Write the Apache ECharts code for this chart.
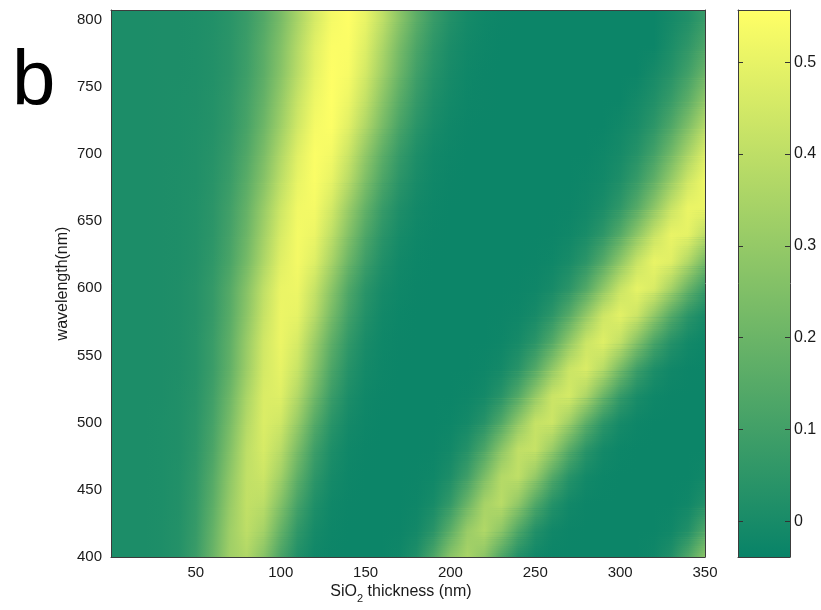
<!DOCTYPE html>
<html><head><meta charset="utf-8">
<script src="https://cdn.jsdelivr.net/npm/echarts@6/dist/echarts.min.js"></script>
<style>html,body{margin:0;padding:0;background:#fff}#chart{width:821px;height:610px}</style>
</head><body><div id="chart"></div>
<script>
// SiO2 thickness (nm) sample positions
const thickness = [0,10,20,30,40,50,60,70,80,90,100,110,120,130,140,150,160,170,180,190,200,210,220,230,240,250,260,270,280,290,300,310,320,330,340,350];
// wavelength (nm) rows
const wavelengths = [400,420,440,460,480,500,520,540,560,580,600,620,640,660,680,700,720,740,760,780,800];
// contrast read along each wavelength row (one value per thickness)
const row400 = [0.010,0.010,0.010,0.013,0.028,0.082,0.194,0.327,0.367,0.266,0.117,0.018,-0.019,-0.028,-0.030,-0.030,-0.029,-0.020,0.019,0.124,0.274,0.350,0.274,0.124,0.019,-0.020,-0.029,-0.030,-0.030,-0.030,-0.030,-0.029,-0.020,0.021,0.130,0.277];
const row420 = [0.010,0.010,0.010,0.013,0.026,0.073,0.180,0.320,0.399,0.339,0.185,0.058,-0.006,-0.025,-0.030,-0.030,-0.030,-0.027,-0.013,0.040,0.161,0.308,0.369,0.282,0.132,0.025,-0.018,-0.028,-0.030,-0.030,-0.030,-0.030,-0.029,-0.020,0.021,0.130];
const row440 = [0.010,0.010,0.010,0.012,0.024,0.065,0.161,0.303,0.409,0.393,0.258,0.110,0.017,-0.019,-0.028,-0.030,-0.030,-0.029,-0.025,-0.002,0.065,0.198,0.342,0.387,0.290,0.137,0.031,-0.015,-0.027,-0.030,-0.030,-0.030,-0.030,-0.029,-0.020,0.021];
const row460 = [0.010,0.010,0.010,0.012,0.022,0.058,0.144,0.281,0.408,0.433,0.329,0.172,0.052,-0.006,-0.025,-0.029,-0.030,-0.030,-0.028,-0.021,0.011,0.093,0.236,0.374,0.403,0.298,0.145,0.036,-0.012,-0.026,-0.030,-0.030,-0.030,-0.030,-0.029,-0.020];
const row480 = [0.010,0.010,0.010,0.012,0.019,0.048,0.122,0.254,0.397,0.460,0.391,0.236,0.092,0.012,-0.020,-0.028,-0.030,-0.030,-0.030,-0.027,-0.014,0.028,0.126,0.275,0.404,0.419,0.306,0.153,0.042,-0.009,-0.026,-0.030,-0.030,-0.030,-0.030,-0.029];
const row500 = [0.010,0.010,0.010,0.012,0.018,0.043,0.108,0.228,0.376,0.469,0.442,0.305,0.148,0.041,-0.008,-0.025,-0.029,-0.030,-0.030,-0.029,-0.026,-0.011,0.035,0.138,0.289,0.418,0.433,0.321,0.166,0.051,-0.006,-0.025,-0.030,-0.030,-0.030,-0.030];
const row520 = [0.010,0.010,0.010,0.011,0.018,0.039,0.096,0.204,0.353,0.467,0.479,0.371,0.214,0.082,0.010,-0.019,-0.028,-0.030,-0.030,-0.030,-0.029,-0.025,-0.009,0.039,0.143,0.295,0.428,0.454,0.356,0.200,0.073,0.005,-0.021,-0.028,-0.030,-0.030];
const row540 = [0.010,0.010,0.010,0.011,0.016,0.033,0.081,0.176,0.319,0.452,0.499,0.425,0.272,0.125,0.033,-0.011,-0.025,-0.029,-0.030,-0.030,-0.030,-0.029,-0.025,-0.009,0.039,0.140,0.290,0.427,0.468,0.382,0.230,0.092,0.014,-0.018,-0.028,-0.030];
const row560 = [0.010,0.010,0.010,0.011,0.016,0.033,0.079,0.169,0.308,0.443,0.510,0.460,0.319,0.169,0.060,0.001,-0.021,-0.028,-0.030,-0.030,-0.030,-0.030,-0.029,-0.024,-0.006,0.044,0.143,0.291,0.430,0.479,0.408,0.261,0.119,0.030,-0.012,-0.026];
const row580 = [0.010,0.010,0.010,0.011,0.016,0.030,0.069,0.152,0.279,0.419,0.511,0.499,0.385,0.228,0.100,0.023,-0.014,-0.026,-0.029,-0.030,-0.030,-0.030,-0.030,-0.028,-0.023,-0.003,0.048,0.150,0.293,0.433,0.490,0.433,0.293,0.150,0.048,-0.003];
const row600 = [0.010,0.010,0.010,0.011,0.016,0.030,0.068,0.144,0.264,0.403,0.506,0.516,0.423,0.277,0.135,0.044,-0.003,-0.022,-0.028,-0.030,-0.030,-0.030,-0.030,-0.030,-0.028,-0.023,-0.004,0.045,0.139,0.281,0.422,0.497,0.463,0.340,0.193,0.076];
const row620 = [0.010,0.010,0.010,0.011,0.014,0.025,0.056,0.119,0.225,0.359,0.482,0.530,0.478,0.346,0.201,0.088,0.019,-0.014,-0.026,-0.030,-0.030,-0.030,-0.030,-0.030,-0.030,-0.028,-0.021,-0.001,0.048,0.146,0.282,0.423,0.505,0.482,0.369,0.223];
const row640 = [0.010,0.010,0.010,0.011,0.014,0.024,0.049,0.107,0.203,0.332,0.461,0.531,0.511,0.401,0.258,0.131,0.045,-0.002,-0.021,-0.028,-0.030,-0.030,-0.030,-0.030,-0.030,-0.030,-0.027,-0.020,0.002,0.052,0.147,0.281,0.419,0.506,0.495,0.395];
const row660 = [0.010,0.010,0.010,0.011,0.013,0.022,0.045,0.096,0.182,0.307,0.435,0.523,0.532,0.452,0.314,0.180,0.078,0.016,-0.013,-0.025,-0.029,-0.030,-0.030,-0.030,-0.030,-0.030,-0.030,-0.027,-0.018,0.004,0.056,0.149,0.279,0.419,0.508,0.508];
const row680 = [0.010,0.010,0.010,0.011,0.013,0.020,0.039,0.080,0.156,0.265,0.396,0.502,0.545,0.498,0.385,0.244,0.126,0.045,0.001,-0.020,-0.027,-0.030,-0.030,-0.030,-0.030,-0.030,-0.030,-0.030,-0.025,-0.014,0.014,0.075,0.174,0.305,0.439,0.517];
const row700 = [0.010,0.010,0.010,0.011,0.012,0.018,0.033,0.069,0.135,0.237,0.364,0.481,0.547,0.527,0.431,0.295,0.167,0.072,0.014,-0.014,-0.025,-0.029,-0.030,-0.030,-0.030,-0.030,-0.030,-0.030,-0.030,-0.022,-0.006,0.031,0.103,0.215,0.346,0.468];
const row720 = [0.010,0.010,0.010,0.011,0.012,0.017,0.028,0.058,0.113,0.205,0.324,0.446,0.533,0.550,0.482,0.362,0.229,0.115,0.041,-0.001,-0.020,-0.027,-0.030,-0.030,-0.030,-0.030,-0.030,-0.030,-0.030,-0.030,-0.017,0.004,0.051,0.134,0.251,0.379];
const row740 = [0.010,0.010,0.010,0.011,0.012,0.016,0.026,0.052,0.103,0.183,0.297,0.421,0.517,0.555,0.514,0.412,0.278,0.156,0.069,0.015,-0.012,-0.024,-0.028,-0.030,-0.030,-0.030,-0.030,-0.030,-0.030,-0.030,-0.030,-0.011,0.018,0.074,0.164,0.284];
const row760 = [0.010,0.010,0.010,0.011,0.011,0.015,0.024,0.045,0.089,0.163,0.267,0.387,0.497,0.554,0.538,0.450,0.325,0.199,0.096,0.032,-0.004,-0.021,-0.027,-0.030,-0.030,-0.030,-0.030,-0.030,-0.030,-0.030,-0.030,-0.030,-0.003,0.034,0.099,0.197];
const row780 = [0.010,0.010,0.010,0.011,0.011,0.015,0.024,0.043,0.085,0.156,0.253,0.373,0.484,0.548,0.547,0.478,0.360,0.231,0.126,0.050,0.006,-0.015,-0.025,-0.029,-0.030,-0.030,-0.030,-0.030,-0.030,-0.030,-0.030,-0.030,-0.030,0.008,0.054,0.126];
const row800 = [0.010,0.010,0.010,0.011,0.011,0.014,0.022,0.041,0.076,0.139,0.231,0.344,0.455,0.534,0.554,0.505,0.402,0.278,0.164,0.078,0.023,-0.007,-0.021,-0.027,-0.030,-0.030,-0.030,-0.030,-0.030,-0.030,-0.030,-0.030,-0.030,-0.008,0.020,0.074];
const contrastRows = [row400,row420,row440,row460,row480,row500,row520,row540,row560,row580,row600,row620,row640,row660,row680,row700,row720,row740,row760,row780,row800];

// axis tick labels
const xTickLabels = [50,100,150,200,250,300,350];
const yTickLabels = [400,450,500,550,600,650,700,750,800];
const colorbarTicks = [0,0.1,0.2,0.3,0.4,0.5];
const colorRange = [-0.039, 0.557];
const xRange = [0, 350];
const yRange = [400, 807];

const FONT = '"Liberation Sans", Arial, sans-serif';
const C0 = [8,131,104], C1 = [255,255,102]; // "summer" colormap ends
function colorFor(v){
  let t = (v - colorRange[0]) / (colorRange[1] - colorRange[0]);
  t = Math.max(0, Math.min(1, t));
  const c = C0.map((a,k)=>Math.round(a + (C1[k]-a)*t));
  return 'rgb(' + c.join(',') + ')';
}
function rowGradient(row){
  const t0 = thickness[0], tN = thickness[thickness.length-1];
  return new echarts.graphic.LinearGradient(0,0,1,0,
    thickness.map((t,j)=>({offset:(t-t0)/(tN-t0), color:colorFor(row[j])})));
}
const SHADE_STEPS = 12; // interp shading between neighbouring rows (rendering only)

const chart = echarts.init(document.getElementById('chart'), null, {renderer:'canvas'});
const boxLine = {show:true, onZero:false, lineStyle:{color:'#3c3c3c', width:1}};
const hiddenBits = {axisTick:{show:false}, axisLabel:{show:false}, splitLine:{show:false}};

const option = {
  animation: false,
  backgroundColor: '#fff',
  textStyle: {fontFamily: FONT},
  graphic: [{
    type:'text', left: 12, top: 44, silent: true,
    style:{text:'b', font:'78px ' + FONT, fill:'#000'}
  }],
  grid: [
    {left:111, top:10, width:594, height:547},
    {left:738, top:10, width:52, height:547}
  ],
  xAxis: [
    {type:'value', gridIndex:0, min:xRange[0], max:xRange[1], position:'bottom', z:10,
     axisLine: boxLine, axisTick:{show:false}, splitLine:{show:false},
     axisLabel:{customValues:xTickLabels, margin:8, fontSize:15, color:'#1a1a1a', fontFamily:FONT},
     name:'SiO{sub|2} thickness (nm)', nameLocation:'middle', nameGap:23, nameMoveOverlap:false,
     nameTextStyle:{fontSize:16, color:'#1a1a1a', fontFamily:FONT, lineHeight:24, padding:[0,14,0,0],
       rich:{sub:{fontSize:11, verticalAlign:'bottom', fontFamily:FONT, color:'#1a1a1a'}}}},
    Object.assign({type:'value', gridIndex:0, min:xRange[0], max:xRange[1], position:'top', z:10, axisLine: boxLine}, hiddenBits),
    Object.assign({type:'value', gridIndex:1, min:0, max:1, position:'bottom', z:10, axisLine: boxLine}, hiddenBits),
    Object.assign({type:'value', gridIndex:1, min:0, max:1, position:'top', z:10, axisLine: boxLine}, hiddenBits)
  ],
  yAxis: [
    {type:'value', gridIndex:0, min:yRange[0], max:yRange[1], position:'left', z:10,
     axisLine: boxLine, axisTick:{show:false}, splitLine:{show:false},
     axisLabel:{customValues:yTickLabels, margin:9, fontSize:15, color:'#1a1a1a', fontFamily:FONT},
     name:'wavelength(nm)', nameLocation:'middle', nameGap:40, nameRotate:90, nameMoveOverlap:false,
     nameTextStyle:{fontSize:16, color:'#1a1a1a', fontFamily:FONT}},
    Object.assign({type:'value', gridIndex:0, min:yRange[0], max:yRange[1], position:'right', z:10, axisLine: boxLine}, hiddenBits),
    {type:'value', gridIndex:1, min:colorRange[0], max:colorRange[1], position:'right', z:10,
     axisLine: boxLine, splitLine:{show:false},
     axisTick:{show:true, inside:true, length:5, customValues:colorbarTicks, lineStyle:{color:'#333'}},
     axisLabel:{customValues:colorbarTicks, margin:4, fontSize:16, color:'#1a1a1a', fontFamily:FONT,
       formatter: v => String(v)}},
    {type:'value', gridIndex:1, min:colorRange[0], max:colorRange[1], position:'left', z:10,
     axisLine: boxLine, splitLine:{show:false}, axisLabel:{show:false},
     axisTick:{show:true, inside:true, length:5, customValues:colorbarTicks, lineStyle:{color:'#333'}}}
  ],
  series: [{
    type:'custom', xAxisIndex:0, yAxisIndex:0, silent:true,
    data: wavelengths.map((w,i)=>[w,i]),
    renderItem: function(params, api){
      const i = api.value(1);
      const n = wavelengths.length;
      const w = wavelengths[i];
      const t0 = thickness[0], tN = thickness[thickness.length-1];
      const cs = params.coordSys;
      const clipR = {x:cs.x, y:cs.y, width:cs.width, height:cs.height};
      const children = [];
      const gA = rowGradient(contrastRows[i]);
      if (i < n-1) {
        const gB = rowGradient(contrastRows[i+1]);
        const wNext = wavelengths[i+1];
        for (let k = 0; k < SHADE_STEPS; k++) {
          const a0 = w + (wNext - w) * k / SHADE_STEPS;
          const a1 = w + (wNext - w) * (k + 1) / SHADE_STEPS;
          const pA = api.coord([t0, a1]);
          const pB = api.coord([tN, a0]);
          const shape = echarts.graphic.clipRectByRect(
            {x:pA[0], y:pA[1]-0.5, width:pB[0]-pA[0], height:pB[1]-pA[1]+1}, clipR);
          if (!shape) continue;
          const frac = (k + 0.5) / SHADE_STEPS;
          children.push({type:'rect', shape: shape, style:{fill:gA}});
          children.push({type:'rect', shape: Object.assign({}, shape), style:{fill:gB, opacity:frac}});
        }
      } else {
        const pA = api.coord([t0, yRange[1]]);
        const pB = api.coord([tN, w]);
        const shape = echarts.graphic.clipRectByRect(
          {x:pA[0], y:pA[1], width:pB[0]-pA[0], height:pB[1]-pA[1]+0.5}, clipR);
        if (shape) children.push({type:'rect', shape: shape, style:{fill:gA}});
      }
      return {type:'group', children: children};
    }
  }, {
    // colour bar
    type:'custom', xAxisIndex:2, yAxisIndex:2, silent:true,
    data: [[0, colorRange[0]]],
    renderItem: function(params, api){
      const pA = api.coord([0, colorRange[1]]);
      const pB = api.coord([1, colorRange[0]]);
      return {type:'rect', shape:{x:pA[0], y:pA[1], width:pB[0]-pA[0], height:pB[1]-pA[1]},
        style:{fill:new echarts.graphic.LinearGradient(0,0,0,1,[
          {offset:0, color: colorFor(colorRange[1])},
          {offset:1, color: colorFor(colorRange[0])}])}};
    }
  }]
};
chart.setOption(option);
</script>
</body></html>
